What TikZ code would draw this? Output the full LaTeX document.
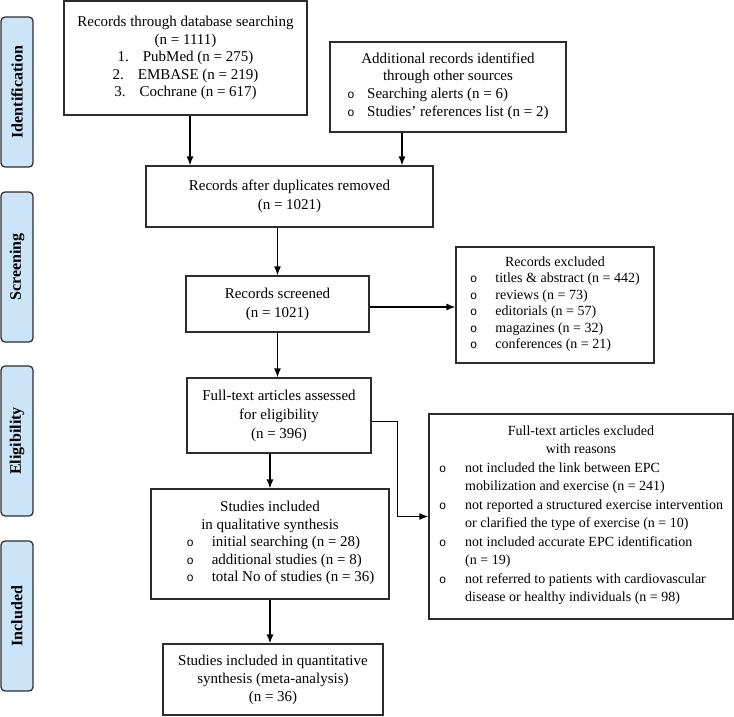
\documentclass[tikz,border=0pt]{standalone}
\usepackage{fontspec}
\setmainfont{Liberation Serif}
\newfontfamily\bulfont{Liberation Mono}
\usepackage{tikz}
\usetikzlibrary{arrows.meta}

\definecolor{phasefill}{RGB}{204,228,248}
\definecolor{edgegray}{RGB}{45,45,45}

\newcommand{\bul}{{\bulfont\fontsize{12}{12}\selectfont o}}

\tikzset{
    box/.style={draw=edgegray, line width=1.25pt, inner sep=0pt, align=center,
        font=\fontsize{15}{19}\selectfont},
    phase/.style={draw=edgegray, fill=phasefill, line width=1.25pt, rounded corners=4pt,
        rotate=90, minimum width=150pt, minimum height=32pt, inner sep=0pt,
        font=\fontsize{16}{18}\selectfont\bfseries},
    arr/.style={-{Latex[length=9pt,width=7pt]}, line width=1.25pt}
}

\begin{document}
\begin{tikzpicture}[x=1pt, y=-1pt]
    \useasboundingbox (0,0) rectangle (734,716);

    \node[phase] (ident) at (17,92) {Identification};
    \node[phase] (screen) at (17,267) {Screening};
    \node[phase] (elig) at (17,441) {Eligibility};
    \node[phase] (incl) at (17,616) {Included};

    \node[box, font=\fontsize{15}{17.5}\selectfont, minimum width=243pt, minimum height=114pt]
        (db) at (185.5,58) {Records through database searching\\(n = 1111)\\
        1.\hspace{14pt}PubMed (n = 275)\\2.\hspace{14pt}EMBASE (n = 219)\\
        3.\hspace{14pt}Cochrane (n = 617)};
    \node[box, font=\fontsize{15}{17.7}\selectfont, minimum width=236pt, minimum height=90pt]
        (add) at (448,87) {Additional records identified\\through other sources\\
        \begin{tabular}[t]{@{}l@{\hspace{12.5pt}}l@{}}
        \bul & Searching alerts (n = 6)\\
        \bul & Studies' references list (n = 2)
        \end{tabular}};

    \node[box, minimum width=287pt, minimum height=61pt]
        (dup) at (289.5,196.5) {Records after duplicates removed\\(n = 1021)};
    \node[box, minimum width=183pt, minimum height=56pt]
        (scr) at (277.5,304) {Records screened\\(n = 1021)};
    \node[box, font=\fontsize{14}{16.5}\selectfont, minimum width=198pt, minimum height=116pt]
        (excl) at (555,305) {Records excluded\\
        \begin{tabular}[t]{@{}l@{\hspace{18pt}}l@{}}
        \bul & titles \& abstract (n = 442)\\
        \bul & reviews (n = 73)\\
        \bul & editorials (n = 57)\\
        \bul & magazines (n = 32)\\
        \bul & conferences (n = 21)
        \end{tabular}};

    \node[box, minimum width=184pt, minimum height=75pt]
        (ft) at (279,415.5) {Full-text articles assessed\\for eligibility\\(n = 396)};
    \node[box, font=\fontsize{14}{18.5}\selectfont, minimum width=304pt, minimum height=205pt]
        (fex) at (581,516.5) {Full-text articles excluded\\with reasons\\
        \begin{tabular}[t]{@{}l@{\hspace{19pt}}l@{}}
        \bul & not included the link between EPC\\
             & mobilization and exercise (n = 241)\\
        \bul & not reported a structured exercise intervention\\
             & or clarified the type of exercise (n = 10)\\
        \bul & not included accurate EPC identification\\
             & (n = 19)\\
        \bul & not referred to patients with cardiovascular\\
             & disease or healthy individuals (n = 98)
        \end{tabular}};

    \node[box, font=\fontsize{15}{17.5}\selectfont, minimum width=238pt, minimum height=110pt]
        (qual) at (270,544) {Studies included\\in qualitative synthesis\\
        \hspace*{21pt}\begin{tabular}[t]{@{}l@{\hspace{18pt}}l@{}}
        \bul & initial searching (n = 28)\\
        \bul & additional studies (n = 8)\\
        \bul & total No of studies (n = 36)
        \end{tabular}};
    \node[box, font=\fontsize{15}{18}\selectfont, minimum width=220pt, minimum height=71pt]
        (quant) at (273,679.5) {Studies included in quantitative\\synthesis (meta-analysis)\\(n = 36)};

    \draw[arr] ([xshift=4.5pt]db.south) -- ([xshift=4.5pt]db.south |- dup.north);
    \draw[arr] ([xshift=-46pt]add.south) -- ([xshift=-46pt]add.south |- dup.north);
    \draw[arr] (scr.north |- dup.south) -- (scr.north);
    \draw[arr] ([yshift=-3pt]scr.east) -- ([yshift=-3pt]scr.east -| excl.west);
    \draw[arr] (scr.south) -- (scr.south |- ft.north);
    \draw[arr] (qual.north |- ft.south) -- (qual.north);
    \draw[arr] ([yshift=-6pt]ft.east) -- ++(26,0) |- (fex.west);
    \draw[arr] (qual.south) -- (qual.south |- quant.north);
\end{tikzpicture}
\end{document}
